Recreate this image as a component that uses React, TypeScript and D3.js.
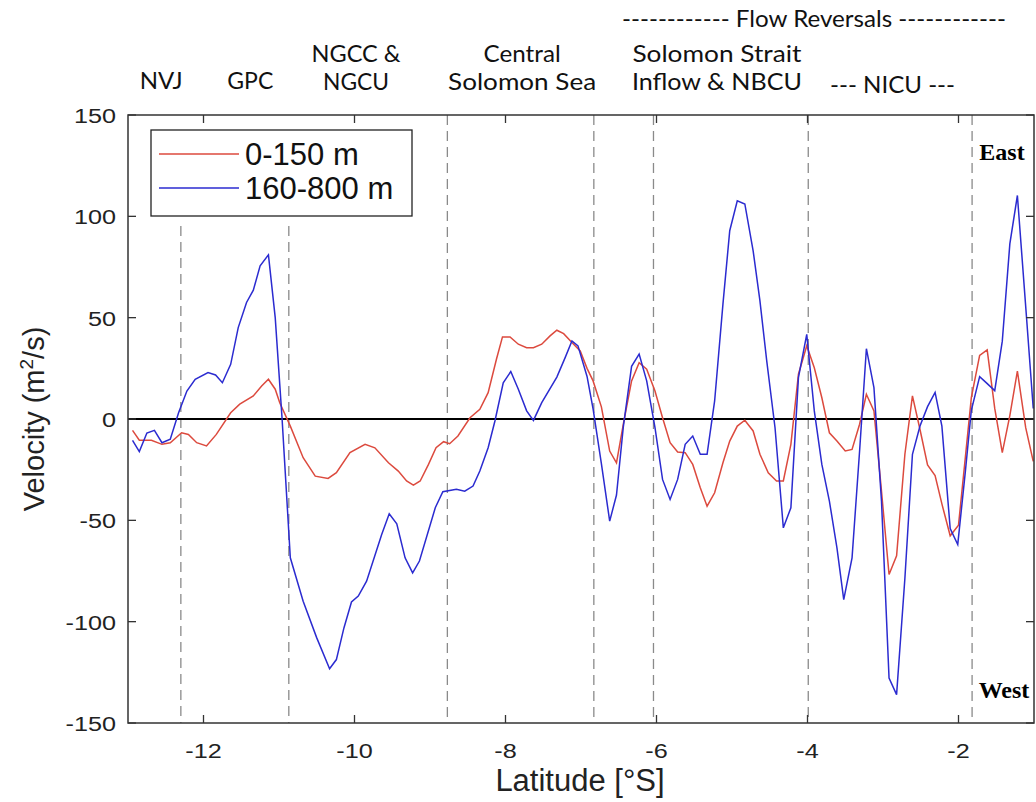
import React from "react";
import * as d3 from "d3";

const redSeries: [number, number][] = [
  [-12.94, -5.6], [-12.85, -10.5], [-12.69, -10.5], [-12.55, -12.5], [-12.44, -11.7], [-12.29, -6.8],
  [-12.2, -7.6], [-12.09, -11.7], [-11.96, -13.3], [-11.83, -7.6], [-11.64, 3.1], [-11.52, 7.3],
  [-11.34, 11.4], [-11.23, 16.3], [-11.14, 19.6], [-11.05, 14.7], [-10.99, 8], [-10.85, -3.5],
  [-10.68, -19.1], [-10.52, -28.2], [-10.35, -29.3], [-10.24, -26.5], [-10.06, -16.6], [-9.86, -12.5],
  [-9.73, -14.2], [-9.55, -21.6], [-9.42, -25.7], [-9.31, -30.6], [-9.22, -32.6], [-9.13, -30.6],
  [-9.02, -22.4], [-8.92, -14.2], [-8.82, -11.2], [-8.74, -12.2], [-8.63, -8.4], [-8.47, 0.6],
  [-8.34, 4.8], [-8.23, 13], [-8.12, 29.5], [-8.04, 40.5], [-7.94, 40.5], [-7.83, 36.9],
  [-7.72, 35.2], [-7.63, 35.2], [-7.52, 36.9], [-7.41, 41], [-7.32, 43.8], [-7.23, 42.1],
  [-7.12, 37.7], [-7.01, 33.6], [-6.92, 25], [-6.84, 18.8], [-6.73, 6], [-6.62, -15.8],
  [-6.53, -21.6], [-6.44, -2.6], [-6.33, 18.8], [-6.23, 27.8], [-6.13, 24.6], [-6.02, 13.8],
  [-5.92, 0.6], [-5.82, -11.7], [-5.72, -16.3], [-5.62, -16.6], [-5.52, -22.4], [-5.42, -33.9],
  [-5.33, -43], [-5.23, -36.4], [-5.12, -21.6], [-5.03, -10.9], [-4.93, -3.5], [-4.83, -0.6],
  [-4.72, -5.9], [-4.63, -17.4], [-4.52, -26.5], [-4.41, -30.6], [-4.32, -30.6], [-4.22, -12.5],
  [-4.12, 22.1], [-4.01, 36.1], [-3.91, 25.3], [-3.81, 10.5], [-3.71, -6.8], [-3.61, -10.9],
  [-3.5, -15.8], [-3.41, -15], [-3.31, -2.6], [-3.22, 12.2], [-3.12, 4], [-3.02, -35.6],
  [-2.92, -76.7], [-2.82, -67.5], [-2.71, -17.4], [-2.61, 11.4], [-2.51, -5.2], [-2.41, -22.7],
  [-2.31, -27.9], [-2.22, -41.9], [-2.11, -57.6], [-2.0, -52.4], [-1.91, -19.2], [-1.83, 10.5],
  [-1.72, 31.4], [-1.62, 34.1], [-1.52, 5.2], [-1.42, -16.6], [-1.32, 1.7], [-1.22, 23.6],
  [-1.11, -4.3], [-1.01, -20.9],
];

const blueSeries: [number, number][] = [
  [-12.94, -10.5], [-12.85, -16.1], [-12.75, -6.9], [-12.65, -5.6], [-12.55, -11.7], [-12.44, -10],
  [-12.33, 3.1], [-12.22, 13.8], [-12.11, 19.6], [-11.94, 22.9], [-11.84, 21.7], [-11.75, 17.9],
  [-11.64, 27], [-11.54, 45.1], [-11.43, 57.5], [-11.34, 63.6], [-11.25, 75.6], [-11.14, 81],
  [-11.05, 50], [-10.96, 0.6], [-10.85, -68.5], [-10.68, -89.9], [-10.5, -108], [-10.33, -123.2],
  [-10.24, -118.7], [-10.14, -103.1], [-10.04, -90.3], [-9.95, -87.4], [-9.84, -80], [-9.64, -57],
  [-9.54, -46.8], [-9.44, -51.7], [-9.33, -68.5], [-9.23, -75.9], [-9.14, -70.1], [-8.93, -43.8],
  [-8.83, -35.9], [-8.65, -34.7], [-8.54, -35.6], [-8.43, -33.1], [-8.34, -25.7], [-8.23, -14.2],
  [-8.14, -1], [-8.03, 17.9], [-7.93, 23.4], [-7.83, 14.7], [-7.72, 4], [-7.63, -0.7],
  [-7.52, 8.1], [-7.32, 20.7], [-7.21, 30.3], [-7.12, 38.5], [-7.04, 36.1], [-6.92, 21],
  [-6.84, 5], [-6.73, -22], [-6.62, -50.4], [-6.53, -37.5], [-6.44, -4], [-6.33, 26],
  [-6.23, 32], [-6.13, 18.8], [-6.02, -4.3], [-5.92, -29.8], [-5.82, -39.7], [-5.72, -29.8],
  [-5.62, -12.5], [-5.52, -8.4], [-5.42, -17.4], [-5.33, -17.4], [-5.23, 8.9], [-5.12, 56.7],
  [-5.03, 92.9], [-4.93, 107.7], [-4.83, 106.1], [-4.72, 83], [-4.63, 58.3], [-4.54, 28.7],
  [-4.43, -4.3], [-4.32, -53.7], [-4.22, -43.8], [-4.12, 20.4], [-4.01, 41.8], [-3.91, 4],
  [-3.81, -22.4], [-3.71, -40.5], [-3.61, -63.6], [-3.52, -89.1], [-3.41, -68.5], [-3.31, -15.8],
  [-3.22, 34.7], [-3.12, 15.5], [-3.02, -40.5], [-2.92, -127.8], [-2.82, -136], [-2.71, -78.6],
  [-2.61, -17.4], [-2.51, -3.5], [-2.41, 6.1], [-2.31, 13.1], [-2.22, -3.5], [-2.11, -54.1],
  [-2.01, -61.9], [-1.91, -26.2], [-1.83, 4.3], [-1.72, 20.9], [-1.63, 17.8], [-1.52, 14],
  [-1.42, 38.4], [-1.32, 86.4], [-1.22, 110.3], [-1.1, 50.6], [-1.01, 5.2],
];

const xTicks = [-12, -10, -8, -6, -4, -2];
const yTicks = [150, 100, 50, 0, -50, -100, -150];
const boundaries = [-12.3, -10.87, -8.77, -6.83, -6.04, -3.99, -1.82];

const regionLabels: { lat: number; lines: string[]; widths: number[] }[] = [
  { lat: -12.56, lines: ["NVJ"], widths: [43] },
  { lat: -11.38, lines: ["GPC"], widths: [46] },
  { lat: -9.98, lines: ["NGCC &", "NGCU"], widths: [89, 66] },
  { lat: -7.78, lines: ["Central", "Solomon Sea"], widths: [77, 148] },
  { lat: -5.2, lines: ["Solomon Strait", "Inflow & NBCU"], widths: [169, 170] },
];

const legendItems = [
  { label: "0-150 m", color: "#dc4a3e" },
  { label: "160-800 m", color: "#2b2bd0" },
];

const W = 1036;
const H = 802;
const left = 128;
const right = 1034;
const top = 115;
const bottom = 723;

export default function App() {
  const x = d3.scaleLinear().domain([-13, -1]).range([left, right]);
  const y = d3.scaleLinear().domain([-150, 150]).range([bottom, top]);
  const line = d3
    .line<[number, number]>()
    .x((d) => x(d[0]))
    .y((d) => y(d[1]));

  const sans = "'Liberation Sans', Arial, sans-serif";
  const cal = "Lato, 'Open Sans', sans-serif";
  const serif = "'Liberation Serif', 'Times New Roman', serif";

  return (
    <svg
      width={W}
      height={H}
      style={{ position: "absolute", left: 0, top: 0, background: "#fff" }}
    >
      <rect x={0} y={0} width={W} height={H} fill="#fff" />
      {/* header */}
      <text
        x={622}
        y={27}
        fontFamily={cal}
        fontSize={23}
        textLength={384}
        lengthAdjust="spacingAndGlyphs"
        fill="#111"
      >
        ------------ Flow Reversals ------------
      </text>
      {regionLabels.map((r, i) =>
        r.lines.map((l, j) => (
          <text
            key={`${i}-${j}`}
            x={x(r.lat) - r.widths[j] / 2}
            y={r.lines.length === 1 ? 89 : 62 + j * 28}
            fontFamily={cal}
            fontSize={23}
            textLength={r.widths[j]}
            lengthAdjust="spacingAndGlyphs"
            fill="#111"
          >
            {l}
          </text>
        ))
      )}
      <text
        x={830}
        y={93}
        fontFamily={cal}
        fontSize={23}
        textLength={125}
        lengthAdjust="spacingAndGlyphs"
        fill="#111"
      >
        --- NICU ---
      </text>

      {/* boundaries */}
      {boundaries.map((b, i) => (
        <line
          key={i}
          x1={x(b)}
          x2={x(b)}
          y1={i < 2 ? 226 : top}
          y2={bottom}
          stroke="#8a8a8a"
          strokeWidth={1.3}
          strokeDasharray="10,6"
        />
      ))}

      {/* zero line */}
      <line x1={left} x2={right} y1={y(0)} y2={y(0)} stroke="#000" strokeWidth={2} />

      {/* series */}
      <path d={line(redSeries) || ""} fill="none" stroke="#dc4a3e" strokeWidth={1.5} />
      <path d={line(blueSeries) || ""} fill="none" stroke="#2b2bd0" strokeWidth={1.5} />

      {/* axes box */}
      <rect x={left} y={top} width={right - left} height={bottom - top} fill="none" stroke="#333" strokeWidth={1.5} />
      {xTicks.map((t) => (
        <g key={t}>
          <line x1={x(t)} x2={x(t)} y1={bottom} y2={bottom - 8} stroke="#333" strokeWidth={1.3} />
          <line x1={x(t)} x2={x(t)} y1={top} y2={top + 8} stroke="#333" strokeWidth={1.3} />
          <text
            transform={`translate(${x(t)}, ${bottom + 35}) scale(1.2, 1)`}
            fontFamily={sans}
            fontSize={21}
            textAnchor="middle"
            fill="#222"
          >
            {t}
          </text>
        </g>
      ))}
      {yTicks.map((t) => (
        <g key={t}>
          <line x1={left} x2={left + 8} y1={y(t)} y2={y(t)} stroke="#333" strokeWidth={1.3} />
          <line x1={right} x2={right - 8} y1={y(t)} y2={y(t)} stroke="#333" strokeWidth={1.3} />
          <text
            transform={`translate(116, ${y(t) + 8}) scale(1.2, 1)`}
            fontFamily={sans}
            fontSize={21}
            textAnchor="end"
            fill="#222"
          >
            {t}
          </text>
        </g>
      ))}

      <text x={580} y={791} fontFamily={sans} fontSize={31} textAnchor="middle" fill="#222">
        Latitude [°S]
      </text>
      <text
        transform={`translate(44, ${y(0)}) rotate(-90)`}
        fontFamily={sans}
        fontSize={29}
        textAnchor="middle"
        fill="#222"
      >
        Velocity (m<tspan dy={-11} fontSize={19}>2</tspan>
        <tspan dy={11}>/s)</tspan>
      </text>

      {/* legend */}
      <rect x={151} y={130} width={261} height={86} fill="#fff" stroke="#222" strokeWidth={1.3} />
      {legendItems.map((it, i) => (
        <g key={i}>
          <line x1={159} x2={239} y1={154 + i * 34} y2={154 + i * 34} stroke={it.color} strokeWidth={1.5} />
          <text x={245} y={165 + i * 34} fontFamily={sans} fontSize={31} fill="#111">
            {it.label}
          </text>
        </g>
      ))}

      <text x={1002} y={160} fontFamily={serif} fontWeight="bold" fontSize={24} textAnchor="middle" fill="#000">
        East
      </text>
      <text x={1004} y={698} fontFamily={serif} fontWeight="bold" fontSize={24} textAnchor="middle" fill="#000">
        West
      </text>
    </svg>
  );
}
